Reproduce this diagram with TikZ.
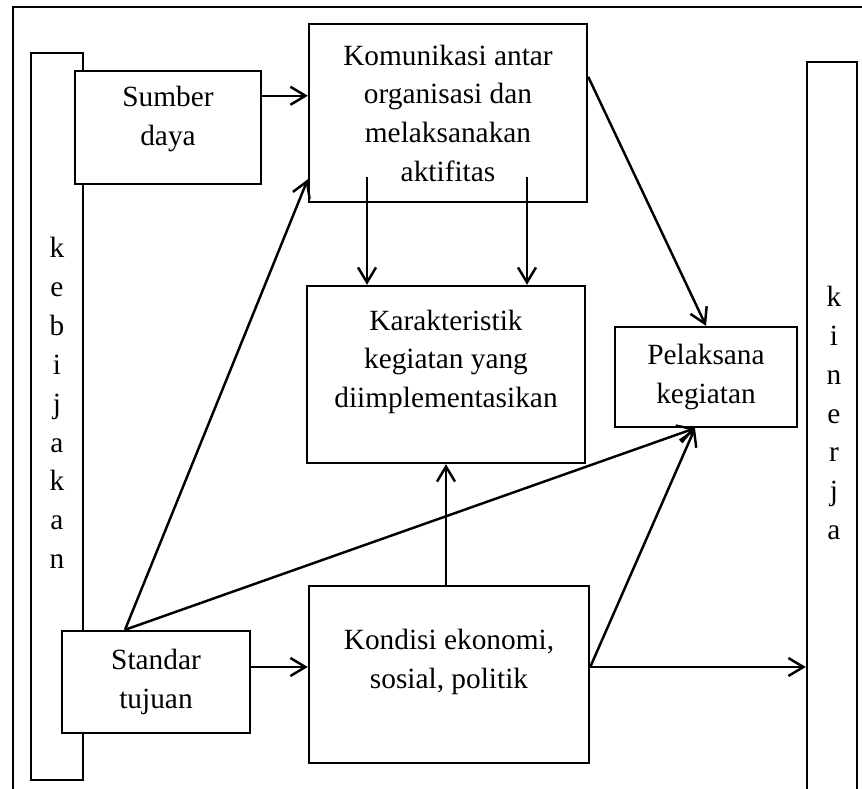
\documentclass[tikz,border=0pt]{standalone}
\usepackage{fontspec}
\setmainfont{Liberation Serif}
\usetikzlibrary{calc}
\usetikzlibrary{arrows.meta}
\tikzset{>={Straight Barb[length=3mm,width=3.6mm]}}
\tikzset{kotak/.style = {shape=rectangle,draw,fill=white,line width=1.4pt,align=center,inner sep=0pt,font=\fontsize{16.7}{22}\selectfont}}
\tikzset{batang/.style = {shape=rectangle,draw,line width=1.4pt,minimum width=1.04cm}}
\tikzset{huruf/.style = {align=center,inner sep=0pt,font=\fontsize{16.7}{22.1}\selectfont}}

\begin{document}
\begin{tikzpicture}[x=0.02cm,y=-0.02cm,line width=1.4pt]
                \useasboundingbox (0,0) rectangle (862,788);
                \clip (0,0) rectangle (862,788);
                \draw (13,800) |- (880,7);

                \node[batang,minimum height=14.54cm] (KB) at (57,416.5) {};
                \node[batang,minimum height=15.36cm,minimum width=1.0cm] (KN) at (832,446) {};
                \node[huruf] (KBt) at (57,403) {k\\e\\b\\i\\j\\a\\k\\a\\n};
                \node[huruf] (KNt) at (834,413) {k\\i\\n\\e\\r\\j\\a};

                \node[kotak,minimum width=3.72cm,minimum height=2.26cm,text depth=13pt] (SD) at (168,127.5) {Sumber\\daya};
                \node[kotak,minimum width=5.56cm,minimum height=3.56cm] (KO) at (448,113) {Komunikasi antar\\organisasi dan\\melaksanakan\\aktifitas};
                \node[kotak,minimum width=5.56cm,minimum height=3.54cm,text depth=18pt] (KG) at (446,374.5) {Karakteristik\\kegiatan yang\\diimplementasikan};
                \node[kotak,minimum width=3.64cm,minimum height=2.0cm] (PK) at (706,377) {Pelaksana\\kegiatan};
                \node[kotak,minimum width=3.76cm,minimum height=2.04cm] (ST) at (156,682) {Standar\\tujuan};
                \node[kotak,minimum width=5.6cm,minimum height=3.54cm,text depth=18pt] (KE) at (449,674.5) {Kondisi ekonomi,\\sosial, politik};

                \coordinate (SDa) at ([yshift=-0.52cm]SD.north east);
                \coordinate (KOa) at ([xshift=-1.62cm,yshift=0.52cm]KO.south);
                \coordinate (KOb) at ([xshift=1.58cm,yshift=0.52cm]KO.south);
                \coordinate (STa) at ([xshift=-0.62cm]ST.north);
                \coordinate (STb) at ([yshift=0.3cm]ST.east);
                \coordinate (KEa) at ([yshift=0.15cm]KE.east);
                \coordinate (PKa) at ([xshift=-0.22cm]PK.south);

                \draw[->] (SDa) -- (SDa -| KO.west);
                \draw[->] (KOa) -- (KOa |- KG.north);
                \draw[->] (KOb) -- (KOb |- KG.north);
                \draw[->] ([yshift=-1.08cm]KO.north east) -- (PK.north);
                \draw[->] (STa) -- ([yshift=0.48cm]KO.south west);
                \draw[->] (STa) -- (PKa);
                \draw[->] (STb) -- (STb -| KE.west);
                \draw[->] (KG.south |- KE.north) -- (KG.south);
                \draw[->] (KEa) -- (PKa);
                \draw[->] (KEa) -- (KEa -| KN.west);
            \end{tikzpicture}
\end{document}
